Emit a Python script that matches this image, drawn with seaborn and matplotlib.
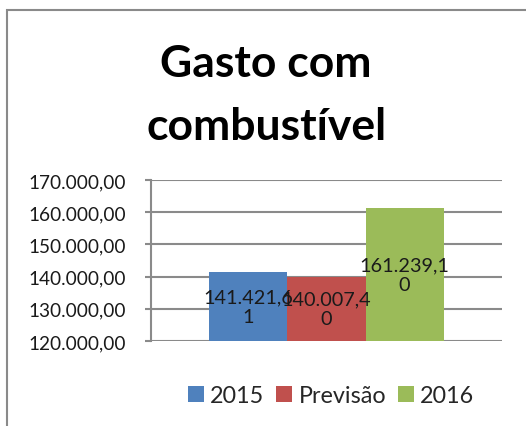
import matplotlib
matplotlib.use("Agg")
import matplotlib.pyplot as plt
from matplotlib.patches import Rectangle, Patch
import pandas as pd
import seaborn as sns

# Chart data
categoria = [""]
series = ["2015", "Previsão", "2016"]
valores = [141421.61, 140007.40, 161239.10]
cores = ["#4F81BD", "#C0504D", "#9BBB59"]
ticks_y = [120000, 130000, 140000, 150000, 160000, 170000]
titulo = ["Gasto com", "combustível"]


def br(v):
    return f"{v:,.2f}".replace(",", "X").replace(".", ",").replace("X", ".")


df = pd.DataFrame({"cat": categoria * len(series), "serie": series, "valor": valores})

sns.set_theme(style="white")
plt.rcParams["font.family"] = ["Lato", "DejaVu Sans"]

W, H = 526, 427
fig = plt.figure(figsize=(W / 100, H / 100), dpi=100)
ax = fig.add_axes([151 / W, 1 - 342 / H, (502 - 151) / W, (342 - 181) / H])

sns.barplot(data=df, x="cat", y="valor", hue="serie", hue_order=series,
            palette=cores, width=0.667, gap=0, dodge=True, ax=ax,
            saturation=1, legend=False, edgecolor="none", linewidth=0)

ax.set_ylim(ticks_y[0], ticks_y[-1])
ax.set_xlim(-0.5, 0.5)
ax.set_yticks(ticks_y)
ax.set_yticklabels([br(t) for t in ticks_y], fontsize=13.7, color="#1a1a1a")
ax.set_xticks([])
ax.set_xlabel("")
ax.set_ylabel("")
grid_c = "#8a8a8a"
ax.yaxis.grid(True, color=grid_c, linewidth=1.5)
ax.set_axisbelow(True)
for s in ["top", "right", "bottom"]:
    ax.spines[s].set_visible(False)
ax.spines["left"].set_color(grid_c)
ax.spines["left"].set_linewidth(1.5)
ax.tick_params(axis="y", which="major", left=True, length=4.3, width=1.5,
               color=grid_c, pad=14)

# value labels, centred inside each bar
for bar, v in zip(ax.patches, valores):
    txt = br(v)
    txt = txt[:9] + "\n" + txt[9:]
    cx = bar.get_x() + bar.get_width() / 2
    cy = (ticks_y[0] + v) / 2
    ax.text(cx, cy, txt, ha="center", va="center", fontsize=14.3, color="#1a1a1a",
            linespacing=1.2)

for linha, base in zip(titulo, [77, 140]):
    fig.text(0.506, 1 - base / H, linha, ha="center", va="baseline", fontsize=32,
             fontweight="bold", color="black")

handles = [Patch(facecolor=c, edgecolor="none") for c in cores]
fig.legend(handles, series, loc="center", bbox_to_anchor=(331 / W, 1 - 397 / H),
           ncol=3, frameon=False, fontsize=16.8, handlelength=0.68, handleheight=0.68,
           handletextpad=0.28, columnspacing=0.5, borderpad=0)

fig.add_artist(Rectangle((6.5 / W, -0.1), 1.2, 1 - 10.5 / H + 0.1,
                         transform=fig.transFigure, fill=False,
                         edgecolor="#8a8a8a", linewidth=1.5, clip_on=False))

fig.savefig("out.png", dpi=100, facecolor="white")
